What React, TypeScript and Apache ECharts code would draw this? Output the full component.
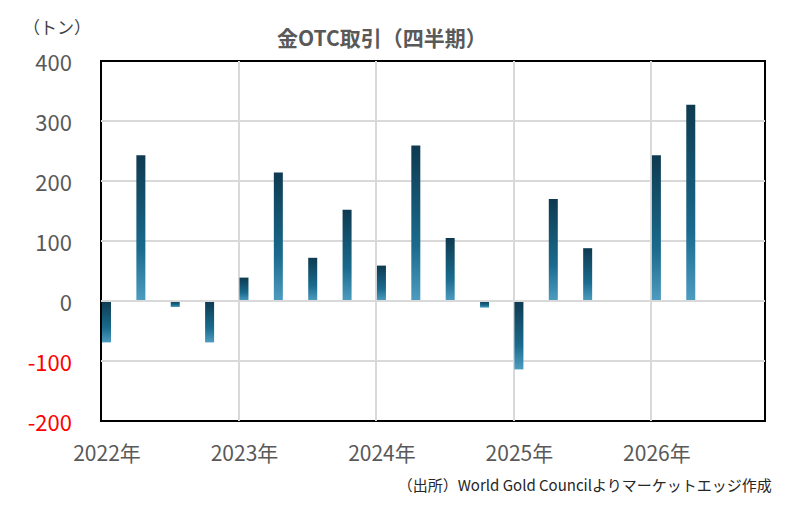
import React, { useEffect, useRef } from 'react';
import * as echarts from 'echarts';

// 四半期ごとのOTC取引（トン）
const years = [2022, 2023, 2024, 2025, 2026];
const quarters = [
  '2022Q1', '2022Q2', '2022Q3', '2022Q4',
  '2023Q1', '2023Q2', '2023Q3', '2023Q4',
  '2024Q1', '2024Q2', '2024Q3', '2024Q4',
  '2025Q1', '2025Q2', '2025Q3', '2025Q4',
  '2026Q1', '2026Q2',
];
const otcValues: (number | null)[] = [
  -69, 243, -10, -69,
  39, 214, 72, 152,
  59, 259, 105, -11,
  -114, 170, 88, null,
  243, 327,
];
const yTicks = [-200, -100, 0, 100, 200, 300, 400];

const FONT = '"Noto Sans CJK JP", "Noto Sans", sans-serif';

// 四半期ラベル → 日付軸上の位置（年の小数）
const quarterToX = (q: string) => {
  const y = Number(q.slice(0, 4));
  const n = Number(q.slice(5));
  return y + (n - 1) / 4 + 0.04;
};

const App: React.FC = () => {
  const chartRef = useRef<HTMLDivElement>(null);

  useEffect(() => {
    if (!chartRef.current) return;
    const chart = echarts.init(chartRef.current, undefined, { renderer: 'svg' });

    const barData = quarters.map((q, i) => [quarterToX(q), otcValues[i]]);

    const option: echarts.EChartsOption = {
      animation: false,
      grid: {
        left: 101,
        right: 23,
        top: 61,
        bottom: 87,
        show: true,
        borderColor: '#000',
        borderWidth: 2,
        backgroundColor: 'transparent',
      },
      graphic: [
        {
          type: 'text',
          left: 277,
          top: 26,
          style: {
            text: '金OTC取引（四半期）',
            font: `bold 21px ${FONT}`,
            fill: '#595959',
          },
        },
        {
          type: 'text',
          left: 23,
          top: 18,
          style: {
            text: '（トン）',
            font: `17px ${FONT}`,
            fill: '#404040',
          },
        },
        {
          type: 'text',
          right: 16,
          top: 477,
          style: {
            text: '（出所）World Gold Councilよりマーケットエッジ作成',
            font: `15px ${FONT}`,
            fill: '#262626',
          },
        },
      ],
      xAxis: {
        type: 'value',
        min: years[0],
        max: 2026.83,
        interval: 1,
        axisLine: { show: false },
        axisTick: { show: false },
        splitLine: {
          show: true,
          showMinLine: false,
          showMaxLine: false,
          lineStyle: { color: '#d9d9d9', width: 2 },
        },
        axisLabel: {
          showMaxLabel: false,
          margin: 20,
          padding: [0, 0, 0, 12],
          color: '#595959',
          fontSize: 21,
          fontFamily: FONT,
          formatter: (v: number) => (Number.isInteger(v) && years.includes(v) ? `${v}年` : ''),
        },
      },
      yAxis: {
        type: 'value',
        min: yTicks[0],
        max: yTicks[yTicks.length - 1],
        interval: 100,
        axisLine: { show: false },
        axisTick: { show: false },
        splitLine: {
          show: true,
          showMinLine: false,
          showMaxLine: false,
          lineStyle: { color: '#d9d9d9', width: 2 },
        },
        axisLabel: {
          margin: 29,
          fontSize: 22,
          fontFamily: FONT,
          color: ((v: string) => (Number(v) < 0 ? '#ff0000' : '#595959')) as any,
        },
      },
      series: [
        {
          type: 'bar',
          data: barData,
          barWidth: 9,
          itemStyle: {
            color: new echarts.graphic.LinearGradient(0, 0, 0, 1, [
              { offset: 0, color: '#0e3a50' },
              { offset: 0.65, color: '#1a6b8e' },
              { offset: 1, color: '#4e9dc1' },
            ]),
          },
          markLine: {
            silent: true,
            symbol: 'none',
            label: { show: false },
            lineStyle: { color: '#d9d9d9', width: 2, type: 'solid' },
            data: [{ yAxis: 0 }],
          },
        },
      ],
    };

    chart.setOption(option);
    return () => chart.dispose();
  }, []);

  return (
    <div
      ref={chartRef}
      style={{ position: 'fixed', left: 0, top: 0, width: 788, height: 508, background: '#fff' }}
    />
  );
};

export default App;
